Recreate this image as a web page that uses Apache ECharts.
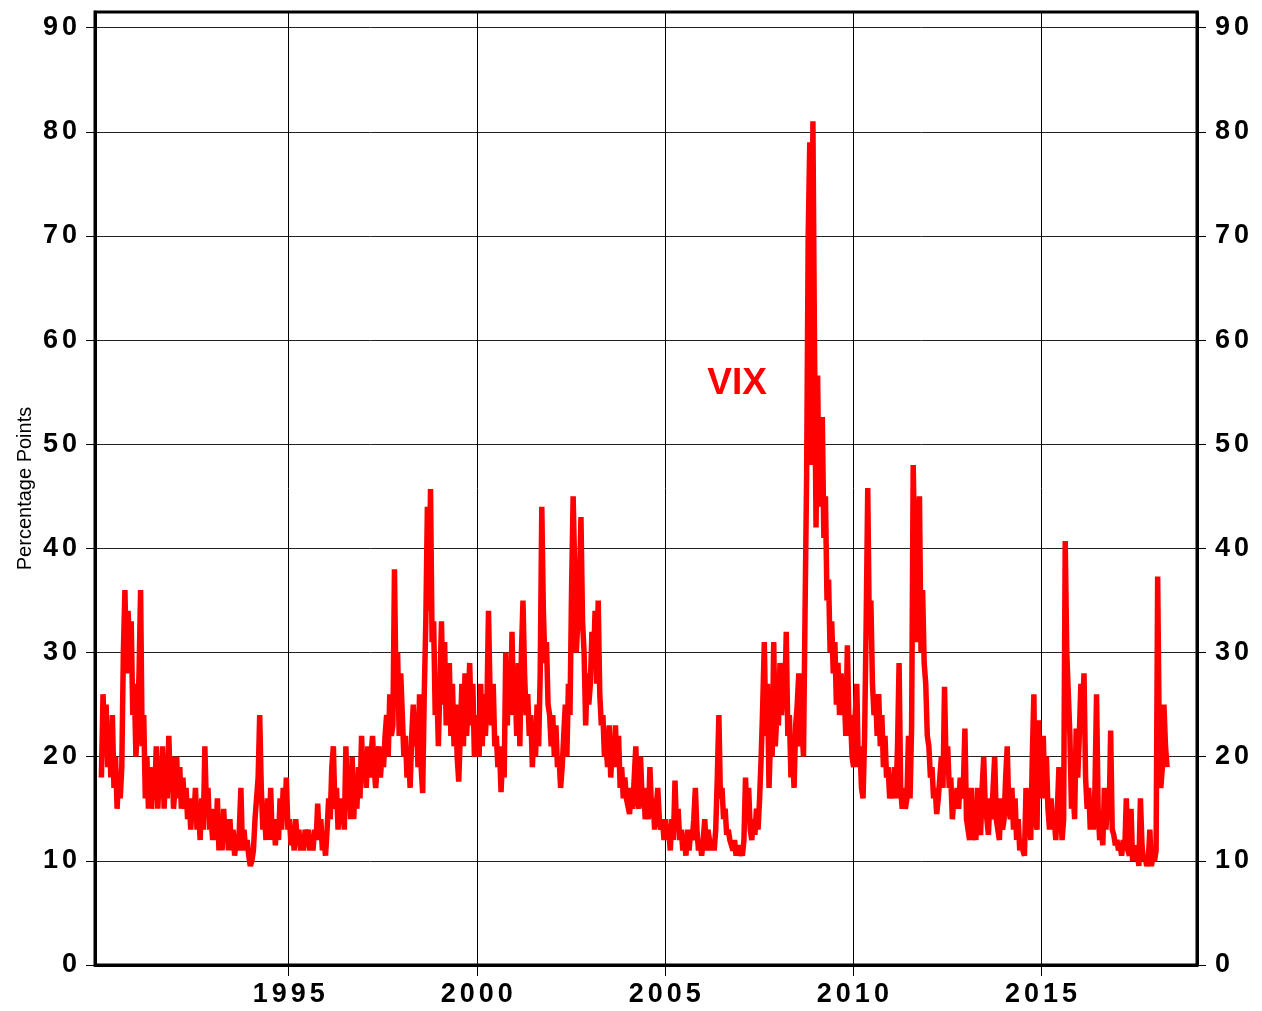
<!DOCTYPE html>
<html>
<head>
<meta charset="utf-8">
<title>VIX</title>
<script src="https://cdn.jsdelivr.net/npm/echarts@6/dist/echarts.min.js"></script>
<style>
  html, body { margin: 0; padding: 0; background: #fff; }
  #chart { width: 1262px; height: 1011px; }
</style>
</head>
<body>
<div id="chart"></div>
<script>
// VIX readings, two per month (first half / second half)
var vix1990 = [18, 26, 22, 25, 19, 23, 18, 24, 17, 20, 15, 18, 16, 19, 30, 36, 28, 34, 30, 33, 24, 27, 20, 23];
var vix1991 = [28, 36, 21, 24, 16, 20, 15, 19, 15, 18, 16, 21, 15, 19, 16, 21, 15, 19, 16, 22, 17, 20, 15, 17];
var vix1992 = [20, 16, 19, 15, 18, 15, 17, 14, 16, 13, 16, 14, 17, 13, 15, 12, 16, 13, 21, 15, 17, 13, 14, 12];
var vix1993 = [15, 12, 16, 11, 14, 11, 15, 12, 14, 11, 14, 11, 13, 10.5, 12, 11, 13, 17, 11, 13, 11, 12, 10.5, 9.5];
var vix1994 = [10, 11, 14, 16, 18, 24, 17, 13, 15, 12, 16, 12, 17, 12, 14, 11.5, 14, 12, 16, 13, 17, 14, 18, 13];
var vix1995 = [14, 11.5, 13, 11, 14, 12, 13, 11, 12, 11, 13, 11.5, 13, 11, 12.5, 11, 13, 12, 15.5, 12, 14, 11, 12, 10.5];
var vix1996 = [13, 16, 14, 19, 21, 15, 17, 13, 16, 14, 15, 13, 21, 15, 18, 14, 20, 14, 18, 15, 19, 16, 22, 18];
var vix1997 = [20, 17, 21, 18, 20, 22, 19, 17, 19, 21, 18, 20, 19, 22, 24, 20, 26, 22, 23, 38, 26, 30, 22, 28];
var vix1998 = [24, 20, 22, 18, 20, 17, 22, 25, 21, 24, 19, 26, 19, 16.5, 26, 33, 44, 34, 45.7, 31, 33, 24, 27, 21];
var vix1999 = [27, 33, 25, 31, 23, 27, 29, 22, 27, 21, 25, 20, 17.6, 22, 27, 21, 28, 22, 25, 29, 23, 27, 20, 24];
var vix2000 = [24, 20, 27, 21, 26, 22, 25, 34, 26, 23, 27, 21, 22, 19, 21, 16.6, 20, 18, 30, 23, 29, 24, 32, 24];
var vix2001 = [27, 22, 29, 21, 30, 35, 28, 24, 26, 22, 24, 19, 23, 20, 25, 21, 28, 44, 34, 29, 31, 25, 24, 21];
var vix2002 = [24, 20, 23, 19, 20, 17, 19, 22, 25, 20, 27, 24, 36, 45, 38, 30, 33, 36, 43, 33, 30, 23, 28, 25];
var vix2003 = [27, 32, 29, 34, 27, 35, 26, 23, 24, 20, 21, 19, 23, 18, 21, 19, 23, 19, 22, 17, 19, 16, 18, 16];
var vix2004 = [16, 14.5, 17, 15, 18, 21, 16, 15, 20, 16, 17, 14, 16, 14, 19, 15, 16, 13, 15, 17, 14, 13, 14, 12];
var vix2005 = [14, 12, 13, 11, 14, 12, 17.7, 13, 15, 12, 13, 11, 12, 10.5, 13, 11, 13, 12, 14, 17, 13, 11, 12, 10.5];
var vix2006 = [12, 14, 11, 13, 12, 11, 12, 11, 13, 18, 24, 16, 17, 14, 15, 12.5, 13, 12, 11.5, 11, 12, 10.5, 11.5, 10.5];
var vix2007 = [11, 10.5, 12, 18, 14, 17, 13, 12, 14, 12.5, 15, 13, 16, 20, 25, 31, 22, 27, 17, 22, 20, 31, 21, 24];
var vix2008 = [23, 29, 24, 27, 25, 32, 22, 24, 18, 20, 17, 23, 25, 28, 21, 23, 20, 34, 47, 70, 79, 48, 81, 60];
var vix2009 = [42, 56.6, 44, 49, 52.6, 41, 45, 35, 37, 30, 33, 28, 31, 25, 29, 24, 28, 24, 26, 22, 30.7, 23, 24, 20];
var vix2010 = [19, 24, 27, 19, 21, 17, 16, 22, 33, 45.8, 32, 35, 27, 24, 26, 22, 26, 21, 24, 19, 22, 18, 19, 16];
var vix2011 = [17, 16, 19, 16, 21, 29, 17, 15, 17, 15, 16, 22, 16, 23, 48, 39, 31, 41, 45, 30, 36, 29, 27, 22];
var vix2012 = [21, 18, 19, 16, 17, 14.5, 16, 18, 20, 17, 26.7, 19, 21, 17, 18, 14, 16, 15, 17, 15, 18, 16, 17, 22.7];
var vix2013 = [14, 13, 12, 17, 12, 13, 12, 17, 13, 12.5, 17, 20, 15, 14, 12.5, 16, 14, 17, 20, 14, 13, 12, 16, 13];
var vix2014 = [14, 18, 21, 15, 14, 17, 13, 16, 12, 14, 11, 12, 11, 10.5, 17, 13, 14, 12, 20, 26, 14, 13, 23.5, 16];
var vix2015 = [19, 22, 16, 20, 15, 13, 16, 13, 14, 12, 15, 19, 19, 12, 14, 40.7, 30, 26, 22, 15, 17, 14, 22.7, 18];
var vix2016 = [22, 27, 24, 28, 18, 15, 17, 13, 16, 13, 17, 26, 15, 12, 13, 11.5, 17, 13, 16, 14, 22.5, 13, 12.5, 11.5];
var vix2017 = [12, 11, 11.5, 10.5, 12, 11, 16, 11, 10.5, 15, 10, 11.5, 10, 11, 9.5, 16, 11.5, 10, 10.5, 9.5, 10, 13, 9.5, 10.5];
var vix2018 = [10, 11, 37.3, 22, 17, 19, 25, 21, 19];

var years = [1990, 1991, 1992, 1993, 1994, 1995, 1996, 1997, 1998, 1999, 2000, 2001, 2002, 2003,
  2004, 2005, 2006, 2007, 2008, 2009, 2010, 2011, 2012, 2013, 2014, 2015, 2016, 2017, 2018];
var vixByYear = [vix1990, vix1991, vix1992, vix1993, vix1994, vix1995, vix1996, vix1997, vix1998,
  vix1999, vix2000, vix2001, vix2002, vix2003, vix2004, vix2005, vix2006, vix2007, vix2008, vix2009,
  vix2010, vix2011, vix2012, vix2013, vix2014, vix2015, vix2016, vix2017, vix2018];

var yearTicks = [1995, 2000, 2005, 2010, 2015];
var valueTicks = [0, 10, 20, 30, 40, 50, 60, 70, 80, 90];
var vixLabelAt = [2006.92, 55.8];

(function () {
  var font = "'Liberation Sans', Arial, sans-serif";

  var points = [];
  years.forEach(function (yr, k) {
    vixByYear[k].forEach(function (v, i) {
      points.push([yr + (i + 0.5) / 24, v]);
    });
  });

  // tick labels in the original are letter-spaced; give each digit a little padding
  function spaced(v) {
    return String(v).split("").map(function (ch) {
      return "{d|" + ch + "}";
    }).join("");
  }

  var digitStyle = {
    d: {
      color: "#000",
      fontFamily: font,
      fontWeight: "bold",
      fontSize: 27,
      padding: [0, 2, 0, 2]
    }
  };

  function valueAxis(side) {
    return {
      type: "value",
      position: side,
      min: 0,
      max: 91.5,
      axisLine: { show: true, lineStyle: { color: "#000", width: 3 } },
      axisTick: {
        show: true,
        length: 9,
        customValues: valueTicks,
        lineStyle: { color: "#000", width: 1 }
      },
      axisLabel: {
        customValues: valueTicks,
        formatter: spaced,
        rich: digitStyle,
        margin: 16,
        color: "#000",
        fontFamily: font,
        fontWeight: "bold",
        fontSize: 27
      },
      splitLine: side === "left" ? { show: true, lineStyle: { color: "#222", width: 1 } } : { show: false }
    };
  }

  var left = valueAxis("left");
  left.name = "Percentage Points";
  left.nameLocation = "middle";
  left.nameRotate = 90;
  left.nameGap = 60;
  left.nameMoveOverlap = false;
  left.nameTextStyle = { color: "#000", fontFamily: font, fontSize: 20 };

  var chart = echarts.init(document.getElementById("chart"), null, { renderer: "canvas" });
  chart.setOption({
    animation: false,
    backgroundColor: "#fff",
    grid: {
      left: 95, right: 65, top: 12, bottom: 46,
      show: true, borderColor: "#000", borderWidth: 3, backgroundColor: "transparent"
    },
    xAxis: {
      type: "value",
      min: 1989.85,
      max: 2019.15,
      axisLine: { show: true, onZero: false, lineStyle: { color: "#000", width: 3 } },
      axisTick: {
        show: true,
        length: 11,
        customValues: yearTicks,
        lineStyle: { color: "#000", width: 1 }
      },
      axisLabel: {
        customValues: yearTicks,
        formatter: spaced,
        rich: digitStyle,
        margin: 16,
        color: "#000",
        fontFamily: font,
        fontWeight: "bold",
        fontSize: 27
      },
      splitLine: { show: true, lineStyle: { color: "#000", width: 1 } }
    },
    yAxis: [left, valueAxis("right")],
    series: [{
      name: "VIX",
      type: "line",
      data: points,
      showSymbol: false,
      symbol: "none",
      lineStyle: { color: "#ff0000", width: 5.5 },
      markPoint: {
        symbol: "circle",
        symbolSize: 0,
        data: [{ coord: vixLabelAt }],
        label: {
          show: true,
          position: "inside",
          formatter: "VIX",
          color: "#ff0000",
          fontFamily: font,
          fontWeight: "bold",
          fontSize: 37
        }
      }
    }]
  });
})();
</script>
</body>
</html>
